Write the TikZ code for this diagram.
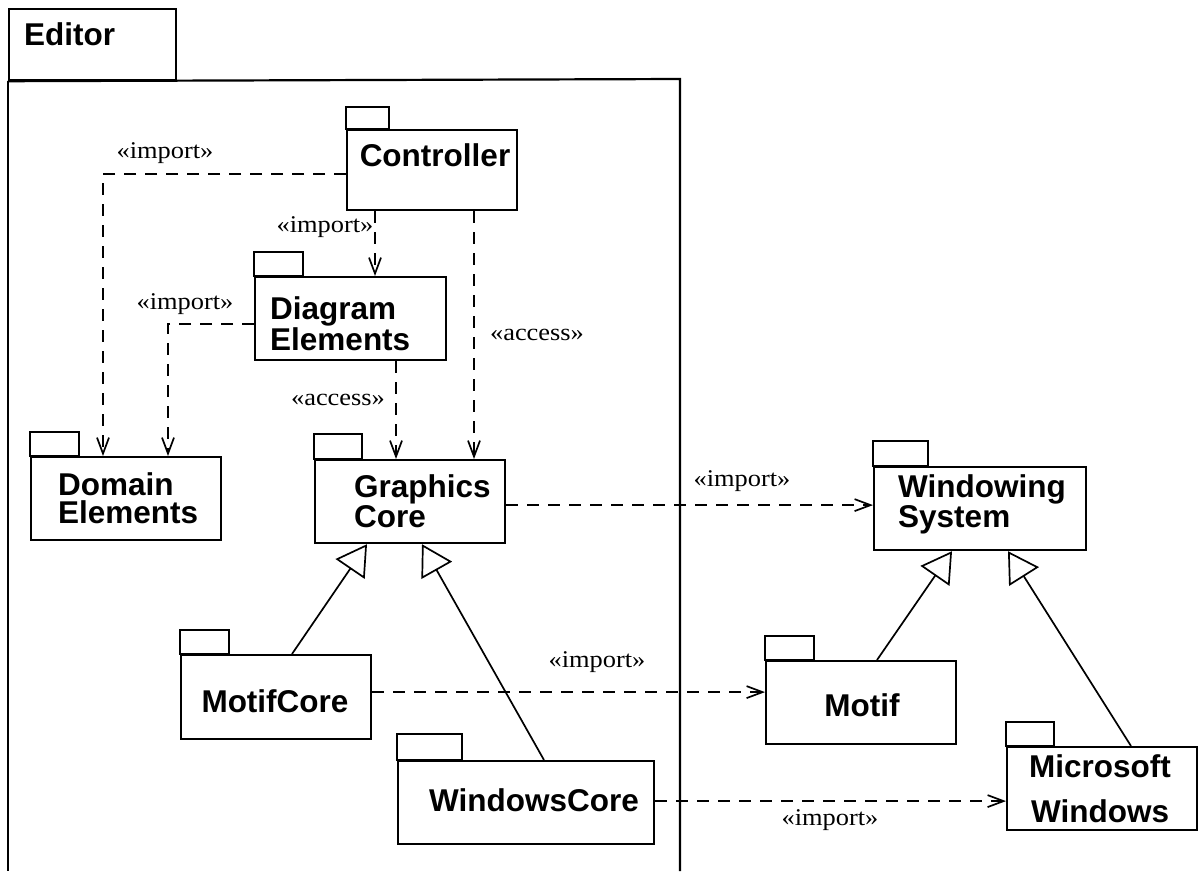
\documentclass[tikz,border=0pt]{standalone}
\usepackage{fontspec}
\setmainfont{Liberation Serif}
\newfontfamily\hv{Liberation Sans}
\usetikzlibrary{arrows.meta}
\begin{document}
\begin{tikzpicture}[x=1pt,y=-1pt,
  pkg/.style={draw, line width=2.2pt, rectangle, inner sep=0pt, anchor=north west},
  tabbox/.style={draw, line width=1.6pt},
  frame/.style={draw, line width=2.2pt},
  pname/.style={font=\hv\bfseries\fontsize{31.5}{28}\selectfont, inner sep=0pt, align=left},
  lbl/.style={font=\fontsize{24}{24}\selectfont, inner sep=0pt},
  dep/.style={line width=1.7pt, dash pattern=on 12pt off 9pt, -{Straight Barb[length=16pt,width=12pt]}},
  gen/.style={line width=1.7pt, -{Triangle[length=30pt,width=35pt,fill=white]}},
]
\useasboundingbox (0,0) rectangle (1203,871);

% Editor package frame
\node[pkg, minimum width=167pt, minimum height=71pt] (edtab) at (8,8) {};
\draw[frame] (edtab.south west) -- (8,871);
\draw[frame] (edtab.south west) -- (680,79) -- (680,871);
\node[pname, anchor=base west] (edT) at (24,45) {Editor};

% packages
\node[pkg, minimum width=170pt, minimum height=80pt] (ctrl) at (346,129) {};
\draw[tabbox] (ctrl.north west) rectangle ++(43,-22);
\node[pname, anchor=base] (ctrlT) at (435,166) {Controller};

\node[pkg, minimum width=191pt, minimum height=83pt] (diag) at (254,276) {};
\draw[tabbox] (diag.north west) rectangle ++(49,-24);
\node[pname, anchor=base west] (diagT) at (270,350) {Diagram\\Elements};

\node[pkg, minimum width=190pt, minimum height=83pt] (dom) at (30,456) {};
\draw[tabbox] (dom.north west) rectangle ++(49,-24);
\node[pname, anchor=base west] (domT) at (58,523) {Domain\\Elements};

\node[pkg, minimum width=190pt, minimum height=83pt] (gfx) at (314,459) {};
\draw[tabbox] (gfx.north west) rectangle ++(48,-25);
\node[pname, anchor=base west] (gfxT) at (354,527) {Graphics\\Core};

\node[pkg, minimum width=212pt, minimum height=83pt] (win) at (873,466) {};
\draw[tabbox] (win.north west) rectangle ++(55,-25);
\node[pname, anchor=base west] (winT) at (898,527) {Windowing\\System};

\node[pkg, minimum width=190pt, minimum height=84pt] (mcore) at (180,654) {};
\draw[tabbox] (mcore.north west) rectangle ++(49,-24);
\node[pname, anchor=base] (mcoreT) at (275,712) {MotifCore};

\node[pkg, minimum width=256pt, minimum height=83pt] (wcore) at (397,760) {};
\draw[tabbox] (wcore.north west) rectangle ++(65,-26);
\node[pname, anchor=base] (wcoreT) at (534,811) {WindowsCore};

\node[pkg, minimum width=190pt, minimum height=83pt] (motif) at (765,660) {};
\draw[tabbox] (motif.north west) rectangle ++(49,-24);
\node[pname, anchor=base] (motifT) at (862,716) {Motif};

\node[pkg, minimum width=190pt, minimum height=83pt] (mswin) at (1006,746) {};
\draw[tabbox] (mswin.north west) rectangle ++(48,-24);
\node[pname, anchor=base, align=center, font=\hv\bfseries\fontsize{31.5}{45}\selectfont] (mswinT) at (1100,822) {Microsoft\\Windows};

% dependency connectors
\path ([yshift=-4pt]ctrl.west) coordinate (d1s)
      ([xshift=73pt]dom.north west) coordinate (d1e)
      ([xshift=29pt]ctrl.south west) coordinate (d2s)
      ([xshift=128pt]ctrl.south west) coordinate (d3s)
      ([yshift=-5.5pt]diag.west) coordinate (d4s)
      ([xshift=138pt]dom.north west) coordinate (d4e)
      ([xshift=142pt]diag.south west) coordinate (d5s)
      ([yshift=-3.5pt]gfx.east) coordinate (d6s)
      ([yshift=5pt]mcore.east) coordinate (d7s)
      ([yshift=1.5pt]wcore.east) coordinate (d8s);
\draw[dep] (d1s) -| (d1e);
\draw[dep] (d2s) -- (d2s |- diag.north);
\draw[dep] (d3s) -- (d3s |- gfx.north);
\draw[dep] (d4s) -| (d4e);
\draw[dep] (d5s) -- (d5s |- gfx.north);
\draw[dep] (d6s) -- (d6s -| win.west);
\draw[dep] (d7s) -- (d7s -| motif.west);
\draw[dep] (d8s) -- (d8s -| mswin.west);

% generalizations
\path ([xshift=112pt]mcore.north west) coordinate (g1s)
      ([xshift=53pt]gfx.south west) coordinate (g1e)
      ([xshift=147pt]wcore.north west) coordinate (g2s)
      ([xshift=108pt]gfx.south west) coordinate (g2e)
      ([xshift=112pt]motif.north west) coordinate (g3s)
      ([xshift=79pt]win.south west) coordinate (g3e)
      ([xshift=125pt]mswin.north west) coordinate (g4s)
      ([xshift=135pt]win.south west) coordinate (g4e);
\draw[gen] (g1s) -- (g1e);
\draw[gen] (g2s) -- (g2e);
\draw[gen] (g3s) -- (g3e);
\draw[gen] (g4s) -- (g4e);

% stereotype labels
\node[lbl] (l1) at (165,153) {\scalebox{1.1}[1]{«import»}};
\node[lbl] (l2) at (325,227) {\scalebox{1.1}[1]{«import»}};
\node[lbl] (l3) at (185,304) {\scalebox{1.1}[1]{«import»}};
\node[lbl] (l4) at (338,400) {\scalebox{1.1}[1]{«access»}};
\node[lbl] (l5) at (537,335) {\scalebox{1.1}[1]{«access»}};
\node[lbl] (l6) at (742,481) {\scalebox{1.1}[1]{«import»}};
\node[lbl] (l7) at (597,662) {\scalebox{1.1}[1]{«import»}};
\node[lbl] (l8) at (830,820) {\scalebox{1.1}[1]{«import»}};
\end{tikzpicture}
\end{document}
